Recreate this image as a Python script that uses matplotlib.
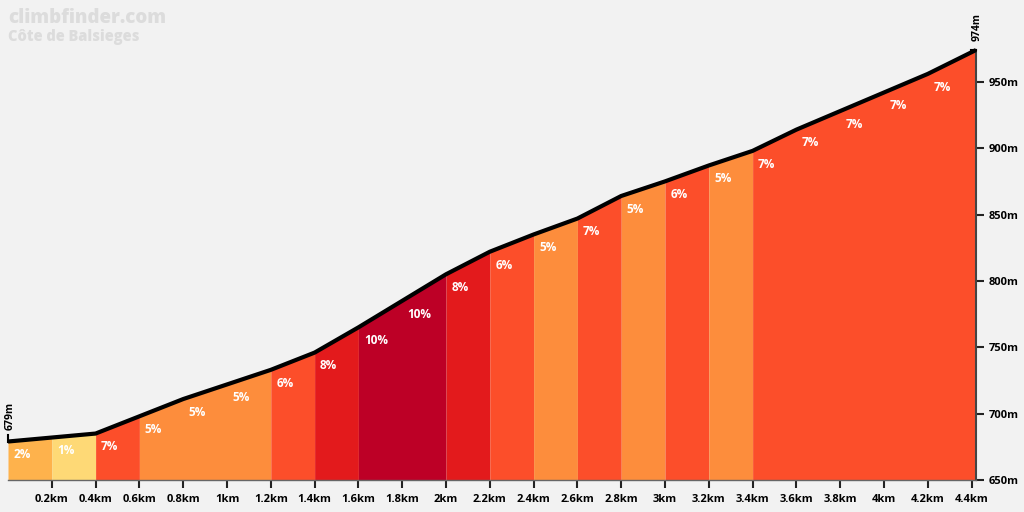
#!/usr/bin/env python3
"""Elevation profile of the Cote de Balsieges, coloured by gradient."""

import matplotlib

matplotlib.use("Agg")
import matplotlib.pyplot as plt

# distance (km) at each segment boundary and elevation (m)
dist_km = [0.0, 0.2, 0.4, 0.6, 0.8, 1.0, 1.2, 1.4, 1.6, 1.8, 2.0, 2.2,
           2.4, 2.6, 2.8, 3.0, 3.2, 3.4, 3.6, 3.8, 4.0, 4.2, 4.42]
elev_m = [679, 682, 685, 698, 711, 722, 733, 746, 765, 785, 805, 822,
          835, 847, 864, 875, 887, 898, 914, 928, 942, 956, 974]
# gradient label per segment (%)
grade_pct = [2, 1, 7, 5, 5, 5, 6, 8, 10, 10, 8, 6, 5, 7, 5, 6, 5, 7, 7, 7, 7, 7]

x_ticks = [0.2, 0.4, 0.6, 0.8, 1.0, 1.2, 1.4, 1.6, 1.8, 2.0, 2.2,
           2.4, 2.6, 2.8, 3.0, 3.2, 3.4, 3.6, 3.8, 4.0, 4.2, 4.4]
x_tick_labels = ["0.2km", "0.4km", "0.6km", "0.8km", "1km", "1.2km", "1.4km",
                 "1.6km", "1.8km", "2km", "2.2km", "2.4km", "2.6km", "2.8km",
                 "3km", "3.2km", "3.4km", "3.6km", "3.8km", "4km", "4.2km", "4.4km"]
y_ticks = [650, 700, 750, 800, 850, 900, 950]
y_tick_labels = ["650m", "700m", "750m", "800m", "850m", "900m", "950m"]

BG = "#f2f2f2"
FONT = ["Open Sans", "DejaVu Sans"]


def grade_color(g):
    if g <= 1:
        return "#fed976"
    if g <= 3:
        return "#feb24c"
    if g <= 5:
        return "#fd8d3c"
    if g <= 7:
        return "#fc4e2a"
    if g <= 9:
        return "#e31a1c"
    return "#bd0026"


def main():
    plt.rcParams["font.family"] = FONT
    plt.rcParams["font.weight"] = "bold"

    fig = plt.figure(figsize=(10.24, 5.12), dpi=100, facecolor=BG)
    ax = fig.add_axes([8 / 1024, 32 / 512, 968 / 1024, 430 / 512])
    ax.set_facecolor(BG)

    base = 650
    # fill runs of equal colour as one polygon so no seams show between them
    colors = [grade_color(g) for g in grade_pct]
    start = 0
    for i in range(1, len(colors) + 1):
        if i == len(colors) or colors[i] != colors[start]:
            xs = dist_km[start:i + 1]
            ys = elev_m[start:i + 1]
            ax.fill_between(xs, ys, base, color=colors[start], lw=0)
            start = i

    for i, g in enumerate(grade_pct):
        ax.text(dist_km[i] + 0.025, elev_m[i] - 10, f"{g}%", color="white",
                fontsize=8.5, fontweight="bold", ha="left", va="center")

    ax.plot(dist_km, elev_m, color="black", lw=3.0, solid_capstyle="butt",
            solid_joinstyle="round", zorder=5, clip_on=False)

    ax.set_xlim(dist_km[0], dist_km[-1])
    ax.set_ylim(base, elev_m[-1])

    ax.set_xticks(x_ticks)
    ax.set_xticklabels(x_tick_labels, fontsize=8, fontweight="bold")
    ax.set_yticks(y_ticks)
    ax.set_yticklabels(y_tick_labels, fontsize=8, fontweight="bold")
    ax.yaxis.tick_right()
    ax.tick_params(axis="x", length=6, width=1.5, color="#222222", pad=4)
    ax.tick_params(axis="y", length=6, width=1.5, color="#222222", pad=3)

    ax.spines["top"].set_visible(False)
    ax.spines["left"].set_visible(False)
    ax.spines["right"].set_color("#444444")
    ax.spines["right"].set_linewidth(1.5)
    ax.spines["bottom"].set_color("#666666")
    ax.spines["bottom"].set_linewidth(1.0)

    # start / finish elevation markers
    ax.plot([dist_km[0], dist_km[0]], [elev_m[0], elev_m[0] + 5], color="black",
            lw=1.5, clip_on=False, zorder=6)
    ax.text(dist_km[0] + 0.008, elev_m[0] + 9, f"{elev_m[0]}m", rotation=90,
            fontsize=7.5, fontweight="bold", ha="center", va="bottom")
    ax.plot([dist_km[-1] - 0.025, dist_km[-1]], [elev_m[-1], elev_m[-1]],
            color="black", lw=1.5, clip_on=False, zorder=6)
    ax.text(dist_km[-1] + 0.005, elev_m[-1] + 7, f"{elev_m[-1]}m", rotation=90,
            fontsize=7.5, fontweight="bold", ha="center", va="bottom")

    # site watermark and climb name
    fig.text(8 / 1024, 1 - 8 / 512, "climbfinder.com", color="#dcdcdc",
             fontsize=13.5, fontweight="heavy", ha="left", va="top")
    fig.text(8 / 1024, 1 - 29 / 512, "Côte de Balsieges", color="#dcdcdc",
             fontsize=10.5, fontweight="heavy", ha="left", va="top")

    fig.savefig("out.png", dpi=100, facecolor=BG)
    plt.close(fig)
    return 0


if __name__ == "__main__":
    raise SystemExit(main())
